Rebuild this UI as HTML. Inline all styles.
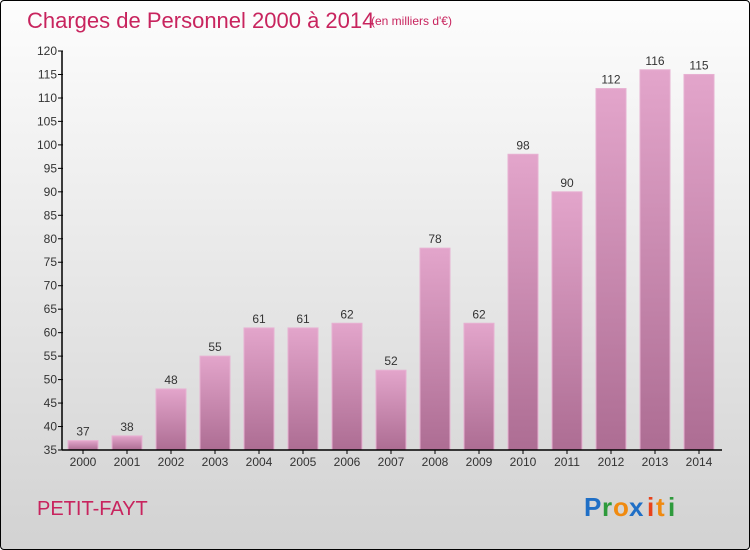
<!DOCTYPE html>
<html><head><meta charset="utf-8"><style>
body{margin:0;}
#wrap{position:relative;width:748px;height:548px;border:1px solid #000;border-radius:4px;background:linear-gradient(#fdfdfd,#d2d2d2);overflow:hidden;font-family:"Liberation Sans",sans-serif;}
</style></head><body>
<div id="wrap">
<svg width="748" height="548" id="svg">
<defs><linearGradient id="bg" x1="0" y1="0" x2="0" y2="1"><stop offset="0" stop-color="#e3a5cb"/><stop offset="1" stop-color="#ad6d93"/></linearGradient></defs>
<text x="26" y="27" font-size="22" fill="#c8245e">Charges de Personnel 2000 à 2014</text>
<text x="370" y="24" font-size="12" fill="#c8245e">(en milliers d'€)</text>
<text x="36" y="514" font-size="20" fill="#c8245e">PETIT-FAYT</text>
<g font-size="26" font-weight="bold">
<text x="583" y="515" fill="#1f6fc6">P</text><text x="601" y="515" fill="#2e9a3c">r</text><text x="612" y="515" fill="#f08a10">o</text><text x="628" y="515" fill="#1f6fc6">x</text><text x="646" y="515" fill="#e8421a">i</text><text x="655" y="515" fill="#f08a10">t</text><text x="667" y="515" fill="#2e9a3c">i</text>
</g>
<g id="plot"></g>
</svg>
</div>
<script>
const years=["2000","2001","2002","2003","2004","2005","2006","2007","2008","2009","2010","2011","2012","2013","2014"];
const values=[37,38,48,55,61,61,62,52,78,62,98,90,112,116,115];
const yTicks=[35,40,45,50,55,60,65,70,75,80,85,90,95,100,105,110,115,120];
const ns="http://www.w3.org/2000/svg";
const g=document.getElementById('plot');
const yMin=35,yMax=120,y0=449,y1=50;
const Y=v=>y0-(v-yMin)/(yMax-yMin)*(y0-y1);
const X=i=>82+i*44;
function mk(t,a){const e=document.createElementNS(ns,t);for(const k in a)e.setAttribute(k,a[k]);g.appendChild(e);return e;}
yTicks.forEach(v=>{
 const l=mk('line',{x1:57,x2:62,y1:Y(v),y2:Y(v),stroke:'#000'});
 
 
 const t=mk('text',{x:56,y:Y(v)+4,'text-anchor':'end','font-size':12,fill:'#333'});
 t.textContent=v;
 
 
});
values.forEach((v,i)=>{
 const r=mk('rect',{x:X(i)-15,y:Y(v),width:30,height:y0-Y(v),fill:'url(#bg)',stroke:'#e7b1d2','stroke-width':1});
 
 
 const t=mk('text',{x:X(i),y:Y(v)-5,'text-anchor':'middle','font-size':12,fill:'#333'});
 t.textContent=v;
 
 
 const tk=mk('line',{x1:X(i),x2:X(i),y1:y0,y2:y0+4,stroke:'#000'});
 
 
 const xl=mk('text',{x:X(i),y:y0+16,'text-anchor':'middle','font-size':12,fill:'#333'});
 xl.textContent=years[i];
 
 
});
const ya=mk('line',{x1:61,x2:61,y1:y1,y2:y0,stroke:'#000','stroke-width':1.5});


const xa=mk('line',{x1:61,x2:721,y1:y0,y2:y0,stroke:'#000','stroke-width':1.5});


</script>
</body></html>
